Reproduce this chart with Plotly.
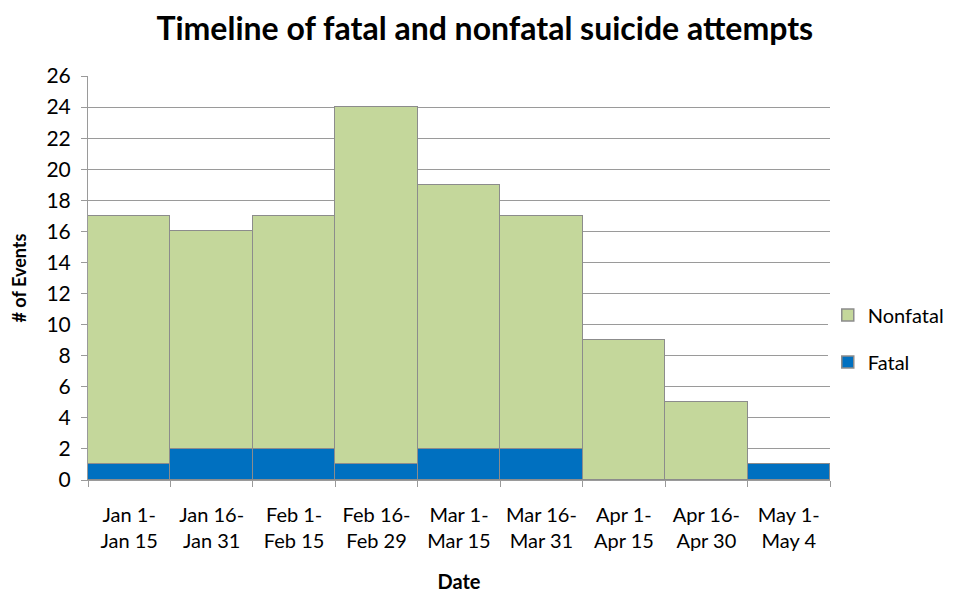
import plotly.graph_objects as go

# ── Data ──────────────────────────────────────────────────
periods  = ["Jan 1-<br>Jan 15", "Jan 16-<br>Jan 31", "Feb 1-<br>Feb 15",
            "Feb 16-<br>Feb 29", "Mar 1-<br>Mar 15", "Mar 16-<br>Mar 31",
            "Apr 1-<br>Apr 15", "Apr 16-<br>Apr 30", "May 1-<br>May 4"]
fatal    = [1, 2, 2, 1, 2, 2, 0, 0, 1]
nonfatal = [16, 14, 15, 23, 17, 15, 9, 5, 0]

# ── Colors ────────────────────────────────────────────────
green  = "#c4d79b"
blue   = "#0070c0"
border = "#8c8c8c"
grid   = "#9a9a9a"
text   = "#000000"
FONT   = "Lato"

fig = go.Figure()
fig.add_trace(go.Bar(x=periods, y=fatal, name="Fatal",
                     legendgroup="f", legendrank=2,
                     marker=dict(color=blue, line=dict(color=border, width=1.5))))
fig.add_trace(go.Bar(x=periods, y=nonfatal, name="Nonfatal",
                     legendgroup="n", legendrank=1,
                     marker=dict(color=green, line=dict(color=border, width=1.5))))

# page body has an 8px margin, so margins are shifted to compensate
fig.update_layout(
    width=979, height=596,
    barmode="stack", bargap=0,
    paper_bgcolor="white", plot_bgcolor="white",
    font=dict(family=FONT, color=text, size=20),
    title=dict(text="<b>Timeline of fatal and nonfatal suicide attempts</b>",
               x=0.487, xanchor="center", y=0.965, yanchor="middle",
               font=dict(size=32, family=FONT)),
    margin=dict(l=80, r=157, t=68, b=124),
    legend=dict(x=0.997, y=0.35, yanchor="middle", xanchor="left",
                traceorder="grouped", tracegroupgap=18,
                font=dict(size=20, family=FONT)),
    showlegend=True,
)
fig.update_xaxes(
    type="category", tickson="boundaries", ticks="outside", ticklen=6,
    tickcolor=grid, showline=True, linecolor=grid, linewidth=1,
    showgrid=False, tickfont=dict(size=20), tickangle=0,
    ticklabelstandoff=17, automargin=False,
    title=dict(text="<b>Date</b>", font=dict(size=20), standoff=23),
)
fig.update_yaxes(
    range=[0, 26], dtick=2, ticks="outside", ticklen=6, tickcolor=grid,
    showline=True, linecolor=grid, linewidth=1,
    showgrid=True, gridcolor=grid, gridwidth=1, zeroline=False,
    tickfont=dict(size=21), ticklabelstandoff=6, automargin=False,
    title=dict(text="<b># of Events</b>", font=dict(size=18), standoff=16),
)

fig.write_html("out.html")
